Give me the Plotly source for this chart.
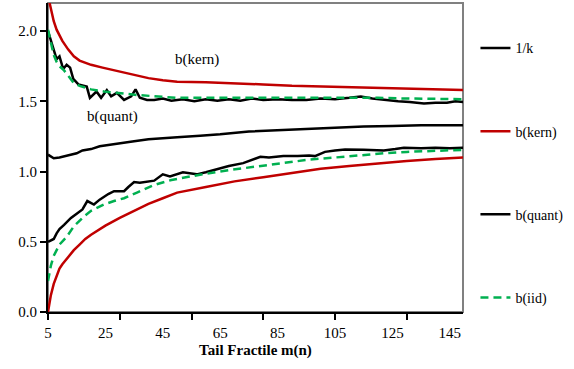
import plotly.graph_objects as go

# ---- data ----
m_invk = [5, 6, 7, 9, 11, 13, 15, 17, 20, 23, 26, 30, 35, 40, 45, 50, 58, 65, 75, 85, 95, 105, 115, 125, 135, 150]
invk = [1.12, 1.11, 1.095, 1.10, 1.11, 1.12, 1.13, 1.15, 1.16, 1.18, 1.19, 1.20, 1.215, 1.23, 1.235, 1.245,
        1.255, 1.265, 1.285, 1.295, 1.305, 1.31, 1.32, 1.325, 1.33, 1.33]

m_kern_up = [5, 6, 7, 8, 9, 10, 12, 14, 16, 18, 20, 24, 28, 32, 36, 40, 45, 50, 60, 70, 80, 90, 100, 110, 120, 130, 140, 150]
kern_up = [2.25, 2.15, 2.07, 2.01, 1.97, 1.93, 1.87, 1.82, 1.79, 1.775, 1.76, 1.74, 1.72, 1.70, 1.68, 1.665, 1.65,
           1.64, 1.635, 1.63, 1.62, 1.61, 1.605, 1.60, 1.59, 1.585, 1.585, 1.58]
m_kern_lo = [5, 6, 7, 8, 9, 10, 12, 14, 16, 18, 20, 25, 30, 35, 40, 45, 50, 60, 70, 80, 90, 100, 110, 120, 130, 140, 150]
kern_lo = [0.0, 0.12, 0.20, 0.26, 0.31, 0.34, 0.39, 0.44, 0.48, 0.52, 0.55, 0.615, 0.67, 0.72, 0.77, 0.81, 0.85,
           0.89, 0.93, 0.96, 0.99, 1.02, 1.04, 1.06, 1.075, 1.09, 1.10]

m_quant_up = [5, 6, 7, 8, 9, 10.3, 11.5, 12.7, 13.8, 15.6, 18.5, 19.6, 21.9, 23.5, 25.5, 27, 29, 31.5, 34, 35.5,
              37, 39.5, 42, 45, 48, 52, 56, 60, 64, 68, 72, 76, 80, 85, 90, 95, 100, 105, 110, 114, 118, 122,
              127, 131, 136, 140, 144, 147, 150]
quant_up = [2.00, 1.93, 1.86, 1.80, 1.82, 1.73, 1.76, 1.74, 1.66, 1.62, 1.605, 1.525, 1.57, 1.525, 1.58, 1.535,
            1.56, 1.51, 1.535, 1.585, 1.525, 1.51, 1.51, 1.52, 1.505, 1.515, 1.50, 1.515, 1.505, 1.515, 1.505,
            1.52, 1.51, 1.515, 1.51, 1.51, 1.52, 1.515, 1.525, 1.535, 1.52, 1.51, 1.50, 1.495, 1.485, 1.49,
            1.49, 1.50, 1.495]
m_quant_lo = [5, 6, 7, 8, 9, 10.6, 12, 13, 15, 17, 18.7, 20, 21, 23, 24.5, 26, 28, 31.5, 33, 35, 37, 40, 42, 45,
              47.5, 52, 56.8, 60, 64, 68, 73, 76, 79, 82, 87, 92, 96, 98, 101.5, 105, 108.5, 115, 122, 126,
              129, 135, 140, 145, 150]
quant_lo = [0.50, 0.51, 0.52, 0.56, 0.59, 0.62, 0.65, 0.67, 0.70, 0.73, 0.79, 0.775, 0.765, 0.80, 0.82, 0.84,
            0.86, 0.86, 0.89, 0.925, 0.92, 0.93, 0.935, 0.98, 0.965, 0.995, 0.98, 0.995, 1.02, 1.04, 1.06,
            1.08, 1.105, 1.10, 1.11, 1.11, 1.115, 1.11, 1.14, 1.15, 1.157, 1.155, 1.15, 1.16, 1.17, 1.165,
            1.17, 1.165, 1.17]

m_iid_up = [5, 6, 7, 8, 9, 10.6, 12, 14, 16, 17.5, 20, 24.5, 28, 31.5, 36, 42, 50, 60, 70, 80, 90, 100, 110,
            120, 130, 140, 150]
iid_up = [2.01, 1.92, 1.83, 1.78, 1.75, 1.72, 1.68, 1.63, 1.61, 1.60, 1.585, 1.57, 1.565, 1.555, 1.545, 1.535,
          1.525, 1.525, 1.525, 1.525, 1.525, 1.525, 1.53, 1.525, 1.52, 1.52, 1.515]
m_iid_lo = [5, 6, 7, 8, 9, 10.6, 12, 14, 16, 17.5, 20, 24.5, 28, 31.5, 36, 42, 48, 54.5, 60, 68, 75, 82, 90,
            96, 105, 115, 122, 130, 140, 150]
iid_lo = [0.22, 0.33, 0.40, 0.44, 0.48, 0.515, 0.55, 0.61, 0.65, 0.68, 0.72, 0.765, 0.79, 0.81, 0.85, 0.905,
          0.94, 0.965, 0.985, 1.01, 1.03, 1.05, 1.07, 1.085, 1.10, 1.12, 1.13, 1.14, 1.15, 1.155]

x_ticks = [5, 25, 45, 65, 85, 105, 125, 145]
y_ticks = [0.0, 0.5, 1.0, 1.5, 2.0]

RED = "#C00000"
GREEN = "#00B050"
FONT = "Liberation Serif"


def band(xu, yu, xl, yl):
    return list(xu) + [None] + list(xl), list(yu) + [None] + list(yl)


fig = go.Figure()
fig.add_trace(go.Scatter(x=m_invk, y=invk, mode="lines", name="1/k", legendgroup="a",
                         line=dict(color="black", width=2.5)))
xs, ys = band(m_kern_up, kern_up, m_kern_lo, kern_lo)
fig.add_trace(go.Scatter(x=xs, y=ys, mode="lines", name="b(kern)", legendgroup="b",
                         line=dict(color=RED, width=2.5)))
xs, ys = band(m_quant_up, quant_up, m_quant_lo, quant_lo)
fig.add_trace(go.Scatter(x=xs, y=ys, mode="lines", name="b(quant)", legendgroup="c",
                         line=dict(color="black", width=2.5)))
xs, ys = band(m_iid_up, iid_up, m_iid_lo, iid_lo)
fig.add_trace(go.Scatter(x=xs, y=ys, mode="lines", name="b(iid)", legendgroup="d",
                         line=dict(color=GREEN, width=2.5, dash="8px,5px")))

fig.add_annotation(x=57, y=1.80, text="b(kern)", showarrow=False,
                   font=dict(family=FONT, size=15, color="black"))
fig.add_annotation(x=27.3, y=1.39, text="b(quant)", showarrow=False,
                   font=dict(family=FONT, size=15, color="black"))

# gray frame around the plot area
fig.add_shape(type="rect", xref="paper", yref="paper", x0=0, y0=0, x1=1, y1=1,
              line=dict(color="#808080", width=2), layer="below")

fig.update_layout(
    width=574, height=369,
    margin=dict(l=48, r=111, t=3, b=57),
    paper_bgcolor="white", plot_bgcolor="white",
    font=dict(family=FONT, size=15, color="black"),
    showlegend=True,
    legend=dict(x=1.03, y=0.905, xanchor="left", yanchor="top",
                font=dict(family=FONT, size=14, color="black"),
                tracegroupgap=62, bgcolor="rgba(0,0,0,0)", itemwidth=30),
    xaxis=dict(range=[5, 149.6], tickvals=x_ticks, ticktext=[str(v) for v in x_ticks],
               ticks="", showgrid=False, zeroline=False,
               showline=True, linecolor="black", linewidth=2,
               tickfont=dict(family=FONT, size=15), ticklabelstandoff=6,
               minor=dict(tick0=5, dtick=25, ticks="outside", ticklen=6, tickwidth=2,
                          tickcolor="black", showgrid=False),
               title=dict(text="<b>Tail Fractile m(n)</b>", font=dict(family=FONT, size=15), standoff=4)),
    yaxis=dict(range=[0, 2.2], tickvals=y_ticks, ticktext=[f"{v:.1f}" for v in y_ticks],
               ticks="outside", ticklen=6, tickwidth=2, tickcolor="black",
               showgrid=False, zeroline=False,
               showline=True, linecolor="black", linewidth=2,
               tickfont=dict(family=FONT, size=15)),
)

fig.write_html("out.html")
